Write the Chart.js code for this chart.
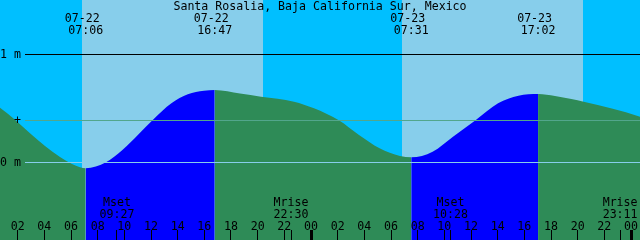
<!DOCTYPE html>
<html>
<head>
<meta charset="utf-8">
<title>Santa Rosalia tides</title>
<script src="https://cdn.jsdelivr.net/npm/chart.js@4.4.0/dist/chart.umd.min.js"></script>
<style>
  html, body { margin: 0; padding: 0; background: #00bfff; }
  canvas { display: block; }
</style>
</head>
<body>
<canvas id="tideChart" width="640" height="240"></canvas>
<script>
// hours are counted from 07-22 00:00
var tideHours = [0.5, 0.675, 1.8, 2.925, 4.05, 5.175, 6.075, 6.675, 7.1, 8.625, 9.855, 11.085,
  12.15, 13.53, 14.76, 15.975, 16.78, 18.675, 20.25, 22.725, 24.225, 26.085, 27.6, 29.145,
  30.675, 31.517, 33.12, 34.65, 36.34, 38.03, 39.56, 41.033, 42.3, 43.53, 44.45, 48.675, 48.9];
var tideLevels = [0.52, 0.506, 0.394, 0.27, 0.151, 0.049, -0.016, -0.046, -0.056, 0.0, 0.114, 0.262,
  0.395, 0.547, 0.63, 0.663, 0.669, 0.636, 0.607, 0.561, 0.5, 0.389, 0.253, 0.13,
  0.058, 0.046, 0.098, 0.237, 0.389, 0.546, 0.617, 0.632, 0.614, 0.586, 0.561, 0.422, 0.41];

// high / low tides (top labels)
var tideEventHours = [7.1, 16.783, 31.517, 41.033];
var tideEventDates = ["07-22", "07-22", "07-23", "07-23"];
var tideEventTimes = ["07:06", "16:47", "07:31", "17:02"];

// moon set / rise (bottom labels)
var moonHours = [9.45, 22.5, 34.467, 47.183];
var moonNames = ["Mset", "Mrise", "Mset", "Mrise"];
var moonTimes = ["09:27", "22:30", "10:28", "23:11"];

// daylight
var sunrise = [6.825, 30.825];
var sunset = [20.4, 44.4];

// hour axis
var hourTicks = [2, 4, 6, 8, 10, 12, 14, 16, 18, 20, 22, 24, 26, 28, 30, 32, 34, 36, 38, 40, 42, 44, 46, 48];
var hourLabels = ["02", "04", "06", "08", "10", "12", "14", "16", "18", "20", "22", "00",
  "02", "04", "06", "08", "10", "12", "14", "16", "18", "20", "22", "00"];
var midnights = [24, 48];

// level lines
var levelMarks = [1, 0.39, 0];
var levelLabels = ["1 m", "  +", "0 m"];
var levelColors = ["#000000", "#52a68c", "#87ceeb"];

var FONT = "11.6px 'DejaVu Sans Mono', monospace";

var decor = {
  id: "tideDecor",
  beforeDatasetsDraw: function (chart) {
    var ctx = chart.ctx;
    var xs = chart.scales.x;
    var a = chart.chartArea;
    ctx.save();
    ctx.fillStyle = "#00bfff";
    ctx.fillRect(a.left, a.top, a.right - a.left, a.bottom - a.top);
    ctx.fillStyle = "#87ceeb";
    for (var i = 0; i < sunrise.length; i++) {
      var x0 = Math.round(xs.getPixelForValue(sunrise[i]));
      var x1 = Math.round(xs.getPixelForValue(sunset[i]));
      ctx.fillRect(x0, a.top, x1 - x0, a.bottom - a.top);
    }
    ctx.restore();
  },
  afterDatasetsDraw: function (chart) {
    var ctx = chart.ctx;
    var xs = chart.scales.x;
    var ys = chart.scales.y;
    var a = chart.chartArea;
    ctx.save();

    // level lines and their labels
    ctx.font = FONT;
    ctx.textAlign = "left";
    ctx.textBaseline = "middle";
    for (var i = 0; i < levelMarks.length; i++) {
      var y = Math.round(ys.getPixelForValue(levelMarks[i]));
      ctx.fillStyle = levelColors[i];
      ctx.fillRect(25, y, a.right - 25, 1);
      ctx.fillStyle = "#000";
      ctx.fillText(levelLabels[i], 0, y + 1);
    }

    ctx.fillStyle = "#000";
    ctx.textBaseline = "alphabetic";
    ctx.textAlign = "center";

    // title
    ctx.fillText("Santa Rosalia, Baja California Sur, Mexico", 320, 10);

    // tide events
    for (var j = 0; j < tideEventHours.length; j++) {
      var ex = xs.getPixelForValue(tideEventHours[j]);
      ctx.fillText(tideEventDates[j], ex - 3.5, 22);
      ctx.fillText(tideEventTimes[j], ex, 34);
    }

    // moon events
    for (var k = 0; k < moonHours.length; k++) {
      var mx = xs.getPixelForValue(moonHours[k]);
      ctx.fillText(moonNames[k], mx, 206);
      ctx.fillText(moonTimes[k], mx, 218);
      ctx.fillRect(Math.floor(mx), 230, 1, 10);
    }

    // hour ticks
    for (var h = 0; h < hourTicks.length; h++) {
      var hx = xs.getPixelForValue(hourTicks[h]);
      ctx.fillText(hourLabels[h], hx, 230);
      if (midnights.indexOf(hourTicks[h]) >= 0) {
        ctx.fillRect(Math.floor(hx) - 1, 230, 3, 10);
      } else {
        ctx.fillRect(Math.floor(hx), 230, 1, 10);
      }
    }
    ctx.restore();
  }
};

var points = tideHours.map(function (t, i) {
  return { x: t, y: tideLevels[i] };
});

var tideChart = new Chart(document.getElementById("tideChart").getContext("2d"), {
  type: "line",
  data: {
    datasets: [
      {
        data: points,
        borderColor: "rgba(0,0,0,0)",
        borderWidth: 0,
        pointRadius: 0,
        cubicInterpolationMode: "monotone",
        fill: "start",
        backgroundColor: "#2e8b57",
        segment: {
          backgroundColor: function (c) {
            return c.p1.parsed.y > c.p0.parsed.y ? "#0000ff" : "#2e8b57";
          },
        },
      },
    ],
  },
  options: {
    responsive: false,
    animation: false,
    devicePixelRatio: 1,
    layout: { padding: 0 },
    plugins: {
      legend: { display: false },
      title: { display: false },
      tooltip: { enabled: false },
    },
    scales: {
      x: { type: "linear", min: 0.675, max: 48.675, display: false },
      y: { type: "linear", min: -0.7194, max: 1.5028, display: false },
    },
  },
  plugins: [decor],
});
</script>
</body>
</html>
